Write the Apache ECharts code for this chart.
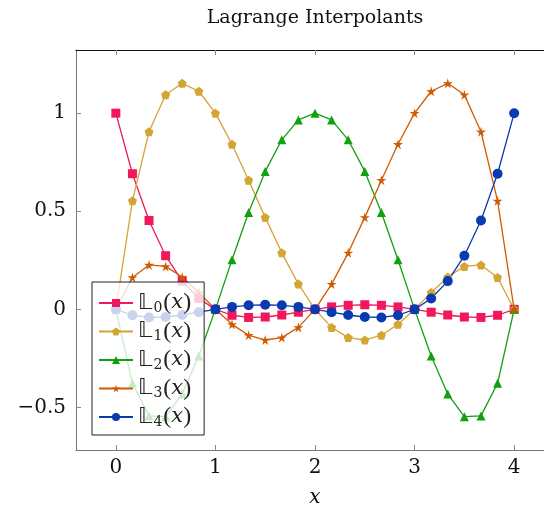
<!DOCTYPE html>
<html><head><meta charset="utf-8">
<script src="https://cdn.jsdelivr.net/npm/echarts@6/dist/echarts.min.js"></script>
<style>html,body{margin:0;padding:0;background:#fff}#c{width:544px;height:507px}</style>
</head><body><div id="c"></div>
<script>
const xs = [0,0.1667,0.3333,0.5,0.6667,0.8333,1,1.1667,1.3333,1.5,1.6667,1.8333,2,2.1667,2.3333,2.5,2.6667,2.8333,3,3.1667,3.3333,3.5,3.6667,3.8333,4];
const L0 = [1,0.6914,0.4527,0.2734,0.1440,0.0556,0,-0.0301,-0.0412,-0.0391,-0.0288,-0.0146,0,0.0124,0.0206,0.0234,0.0206,0.0124,0,-0.0146,-0.0288,-0.0391,-0.0412,-0.0301,0];
const L1 = [0,0.5531,0.9053,1.0938,1.1523,1.1117,1,0.8417,0.6584,0.4688,0.2881,0.1287,0,-0.0920,-0.1440,-0.1563,-0.1317,-0.0765,0,0.0855,0.1646,0.2188,0.2263,0.1627,0];
const L2 = [0,-0.3771,-0.5432,-0.5469,-0.4321,-0.2382,0,0.2525,0.4938,0.7031,0.8642,0.9655,1,0.9655,0.8642,0.7031,0.4938,0.2525,0,-0.2382,-0.4321,-0.5469,-0.5432,-0.3771,0];
const L3 = [0,0.1627,0.2263,0.2188,0.1646,0.0855,0,-0.0765,-0.1317,-0.1563,-0.1440,-0.0920,0,0.1287,0.2881,0.4688,0.6584,0.8417,1,1.1117,1.1523,1.0938,0.9053,0.5531,0];
const L4 = [0,-0.0301,-0.0412,-0.0391,-0.0288,-0.0146,0,0.0124,0.0206,0.0234,0.0206,0.0124,0,-0.0146,-0.0288,-0.0391,-0.0412,-0.0301,0,0.0556,0.1440,0.2734,0.4527,0.6914,1];
const seriesNames = ['L0','L1','L2','L3','L4'];
const subs = ['0','1','2','3','4'];
const xTicks = [0,1,2,3,4];
const yTicks = [-0.5,0,0.5,1];
const titleText = 'Lagrange Interpolants';

const colors = ['#f0185a','#d4a535','#10a010','#d05a00','#0a3ab0'];
const pent = 'path://M0,-1 L0.951,-0.309 L0.588,0.809 L-0.588,0.809 L-0.951,-0.309 Z';
const star = 'path://M0,-1 L0.2,-0.3 L0.951,-0.309 L0.33,0.12 L0.588,0.809 L0,0.38 L-0.588,0.809 L-0.33,0.12 L-0.951,-0.309 L-0.2,-0.3 Z';
const symbols = ['rect', pent, 'triangle', star, 'circle'];
const sizes = [9, 9, 9, 10, 10];
const vals = [L0,L1,L2,L3,L4];
const serif = '"DejaVu Serif", "Liberation Serif", serif';

const chart = echarts.init(document.getElementById('c'), null, {renderer:'canvas'});
const fmtY = v => (v < 0 ? '\u2212' + Math.abs(v) : String(v));
const axisCommon = {
  type:'value', min:-0.4, max:4.4,
  splitLine:{show:false}
};
chart.setOption({
  animation:false,
  graphic:[{type:'text', x:315, y:18, style:{text:titleText, font:'19px '+serif, fill:'#111', align:'center', verticalAlign:'middle'}}],
  grid:{left:76, top:50, width:478, height:400, containLabel:false, outerBoundsMode:'none'},
  xAxis:[
    Object.assign({}, axisCommon, {position:'bottom',
      axisLine:{onZero:false, lineStyle:{color:'#777', width:1}},
      axisTick:{inside:true, length:5, lineStyle:{color:'#888'}, customValues:xTicks},
      axisLabel:{customValues:xTicks, color:'#111', fontFamily:serif, fontSize:20, margin:8},
      name:'x', nameLocation:'middle', nameGap:38,
      nameTextStyle:{fontFamily:serif, fontStyle:'italic', fontSize:20, color:'#111'}}),
    Object.assign({}, axisCommon, {position:'top',
      axisLine:{onZero:false, lineStyle:{color:'#111', width:1}},
      axisTick:{inside:true, length:5, lineStyle:{color:'#888'}, customValues:xTicks},
      axisLabel:{show:false}})
  ],
  yAxis:{type:'value', min:-0.717, max:1.322,
    splitLine:{show:false},
    axisLine:{show:true, onZero:false, lineStyle:{color:'#777', width:1}},
    axisTick:{show:true, inside:true, length:5, lineStyle:{color:'#888'}, customValues:yTicks},
    axisLabel:{customValues:yTicks, formatter:fmtY, color:'#111', fontFamily:serif, fontSize:20, margin:10}},
  legend:{
    orient:'vertical', left:92, top:282, itemWidth:34, itemHeight:10, itemGap:4.5,
    padding:[9,13,6,6],
    backgroundColor:'rgba(255,255,255,0.78)', borderColor:'#222', borderWidth:1,
    data:seriesNames,
    formatter: n => '{bb|\uD835\uDD43}{sub|' + subs[seriesNames.indexOf(n)] + '}{p|(}{x|x}{p|)}',
    textStyle:{color:'#222', rich:{
      bb:{fontFamily:'"DejaVu Sans"', fontSize:22, color:'#222'},
      sub:{fontFamily:serif, fontSize:14, color:'#222', verticalAlign:'bottom', padding:[9,1,0,1]},
      p:{fontFamily:'"Liberation Serif"', fontSize:24, color:'#222'},
      x:{fontFamily:serif, fontSize:21, fontStyle:'italic', color:'#222'}
    }}
  },
  series: vals.map((v,i)=>({
    name:seriesNames[i], type:'line', xAxisIndex:0,
    data: xs.map((x,j)=>[x, v[j]]),
    symbol:symbols[i], symbolSize:sizes[i], showSymbol:true,
    lineStyle:{color:colors[i], width:1.3},
    itemStyle:{color:colors[i]},
    emphasis:{disabled:true}
  }))
});
</script></body></html>
